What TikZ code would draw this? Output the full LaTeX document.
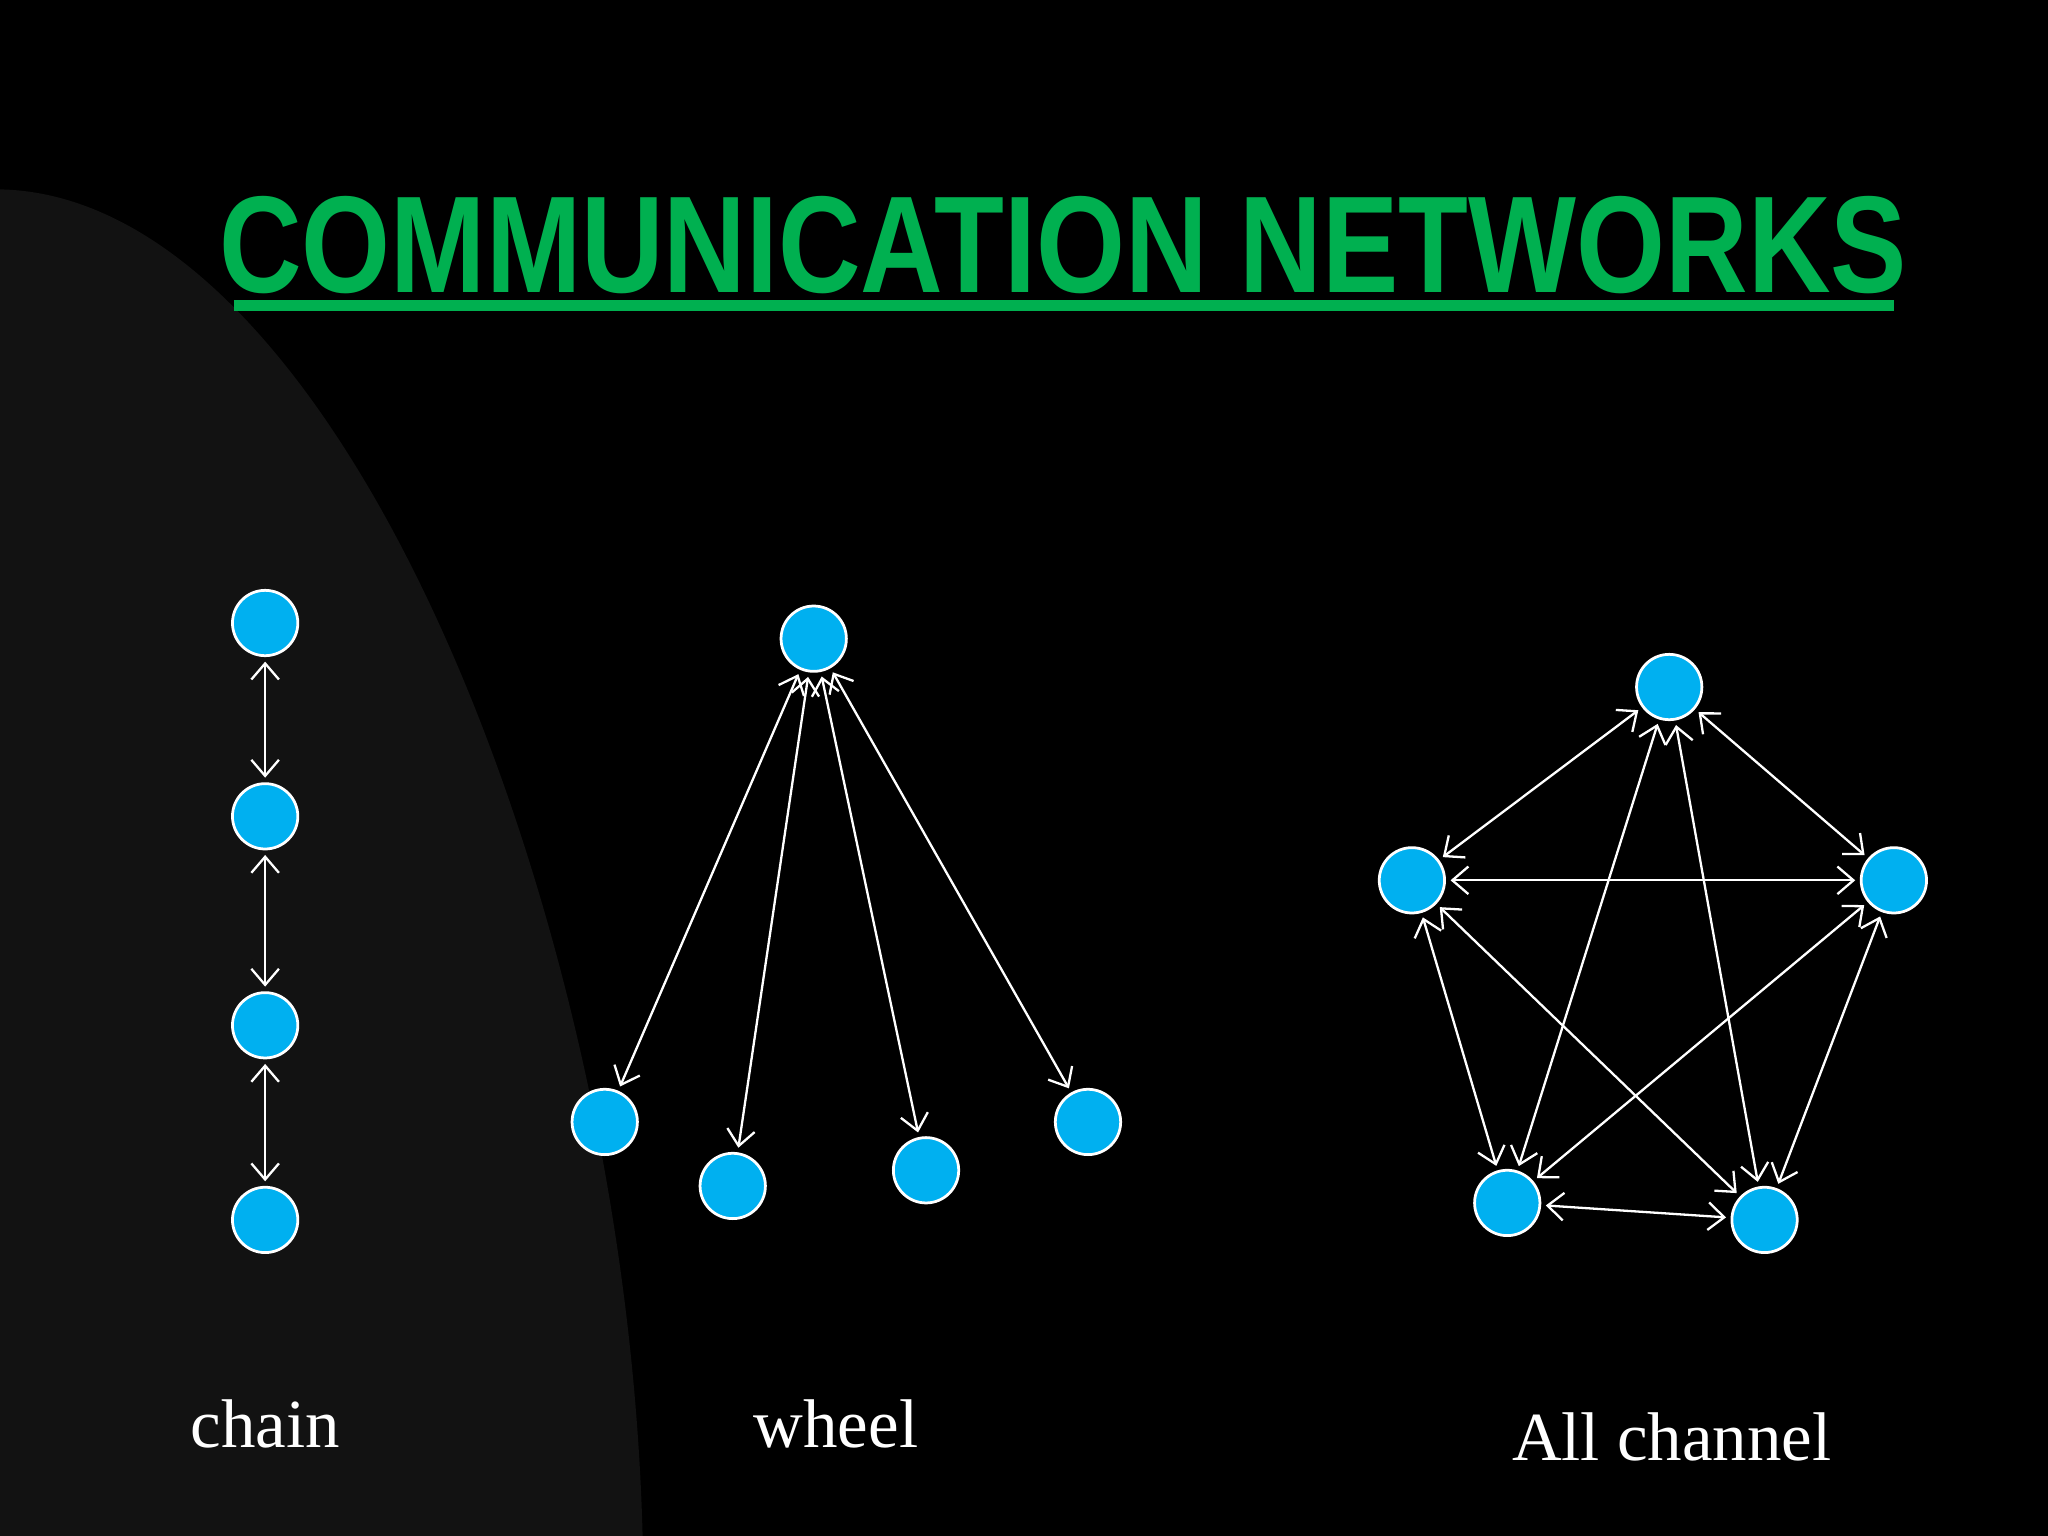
\documentclass[tikz,border=0pt]{standalone}
\usepackage{fontspec}
\setmainfont{Liberation Serif}
\newfontfamily\titlefont{Liberation Sans}
\usetikzlibrary{arrows.meta}
\definecolor{nodeBlue}{RGB}{0, 176, 240}
\definecolor{titleGreen}{RGB}{0, 176, 80}
\definecolor{shadeGrey}{RGB}{18, 18, 18}

\begin{document}
\begin{tikzpicture}[x=0.01cm, y=-0.01cm,
        member/.style={circle, draw=white, line width=0.6pt, fill=nodeBlue, minimum size=0.5cm, inner sep=0pt},
        link/.style={draw=white, line width=0.5pt, {Straight Barb[length=3.5pt,width=6pt]}-{Straight Barb[length=3.5pt,width=6pt]}, shorten <=1pt, shorten >=1pt},
        caption/.style={text=white, font=\fontsize{15}{15}\selectfont}
    ]
    % background
    \fill[black] (0,0) rectangle (1568,1176);
    \fill[shadeGrey] (0,145) .. controls (260,150) and (480,700) .. (492,1176) -- (0,1176) -- cycle;
    \useasboundingbox (0,0) rectangle (1568,1176);

    % title
    \node[text=titleGreen, xscale=0.83, transform shape, font=\titlefont\bfseries\fontsize{30}{30}\selectfont] (title) at (814,188) {COMMUNICATION NETWORKS};
    \draw[titleGreen, line width=2.5pt] (179,234) -- (1450,234);

    % chain
    \node[member] (c1) at (203,477) {};
    \node[member] (c2) at (203,625) {};
    \node[member] (c3) at (203,785) {};
    \node[member] (c4) at (203,934) {};
    \draw[link] (c1) -- (c2);
    \draw[link] (c2) -- (c3);
    \draw[link] (c3) -- (c4);

    % wheel
    \node[member] (hub) at (623,489) {};
    \node[member] (w1) at (463,859) {};
    \node[member] (w2) at (561,908) {};
    \node[member] (w3) at (709,896) {};
    \node[member] (w4) at (833,859) {};
    \foreach \w in {w1,w2,w3,w4}
        \draw[link] (hub) -- (\w);

    % all channel
    \node[member] (a1) at (1278,526) {};
    \node[member] (a2) at (1450,674) {};
    \node[member] (a3) at (1351,934) {};
    \node[member] (a4) at (1154,921) {};
    \node[member] (a5) at (1081,674) {};
    \foreach \p/\q in {a1/a2,a1/a3,a1/a4,a1/a5,a2/a3,a2/a4,a2/a5,a3/a4,a3/a5,a4/a5}
        \draw[link] (\p) -- (\q);

    % captions
    \node[caption] (chain label) at (203,1090) {chain};
    \node[caption] (wheel label) at (640,1090) {wheel};
    \node[caption] (all label) at (1280,1100) {All channel};
\end{tikzpicture}
\end{document}
